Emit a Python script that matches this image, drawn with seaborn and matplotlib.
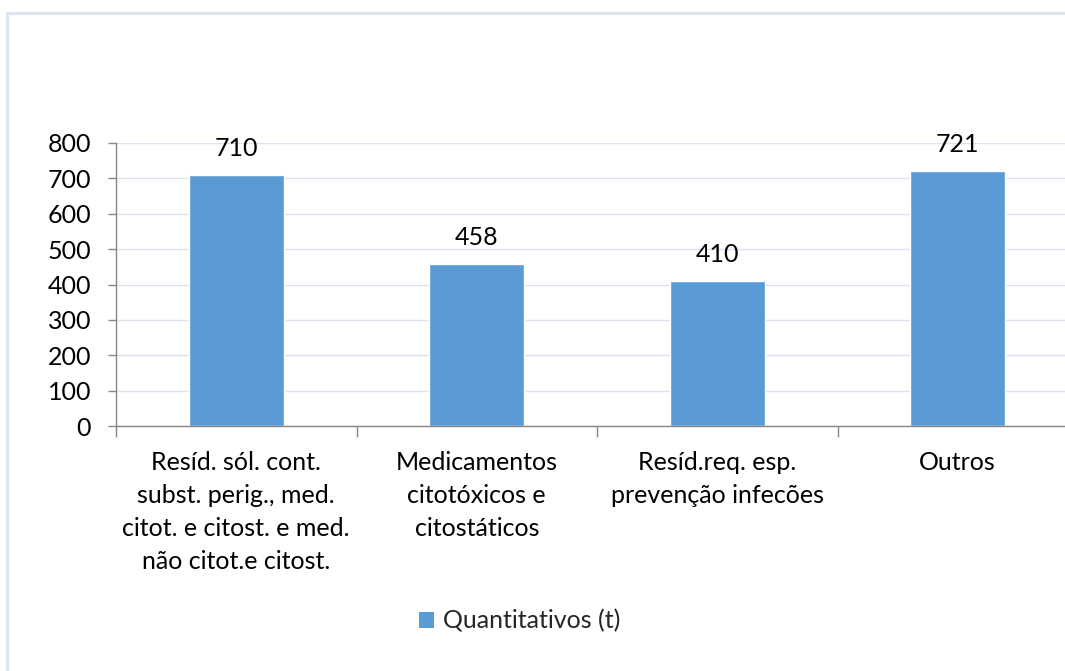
import matplotlib
matplotlib.use("Agg")
import matplotlib.pyplot as plt
import seaborn as sns
import pandas as pd
from matplotlib.patches import Rectangle, Patch

categories = [
    "Resíd. sól. cont.\nsubst. perig., med.\ncitot. e citost. e med.\nnão citot.e citost.",
    "Medicamentos\ncitotóxicos e\ncitostáticos",
    "Resíd.req. esp.\nprevenção infecões",
    "Outros",
]
values = [710, 458, 410, 721]
series_name = "Quantitativos (t)"
yticks = [0, 100, 200, 300, 400, 500, 600, 700, 800]

sns.set_theme(style="white")
plt.rcParams["font.family"] = ["Lato", "DejaVu Sans"]

W, H = 1065, 671
FS = 18
fig = plt.figure(figsize=(W / 100, H / 100), dpi=100)

# outer chart border (cropped at right/bottom)
fig.patches.append(Rectangle((7 / W, -0.1), 1.2, 1 - 13 / H + 0.1,
                             transform=fig.transFigure, fill=False,
                             edgecolor="#DCE5F1", linewidth=2.2))

ax = fig.add_axes([116 / W, (H - 426) / H, (1078 - 116) / W, 283 / H])
df = pd.DataFrame({"cat": categories, "val": values})
sns.barplot(data=df, x="cat", y="val", color="#5B9BD5", saturation=1,
            width=0.395, ax=ax)

ax.set_ylim(0, 800)
ax.set_xlim(-0.5, 3.5)
ax.set_yticks(yticks)
ax.set_yticklabels([str(t) for t in yticks], fontsize=FS, color="#000000")
ax.set_xlabel("")
ax.set_ylabel("")
ax.yaxis.grid(True, color="#DAE3EF", linewidth=1)
ax.set_axisbelow(True)

for s in ["top", "right"]:
    ax.spines[s].set_visible(False)
for s in ["left", "bottom"]:
    ax.spines[s].set_color("#888888")
    ax.spines[s].set_linewidth(1)

ax.tick_params(axis="y", left=True, length=6, color="#888888", pad=12, width=1)
ax.set_xticks([-0.5, 0.5, 1.5, 2.5, 3.5], minor=False)
ax.set_xticklabels([])
ax.tick_params(axis="x", bottom=True, length=8, color="#888888", width=1)
for i, c in enumerate(categories):
    ax.text(i, -0.088, c, transform=ax.get_xaxis_transform(), ha="center",
            va="top", fontsize=FS, linespacing=1.52, color="#000000")

for cont in ax.containers:
    ax.bar_label(cont, labels=[str(v) for v in values], padding=11,
                 fontsize=FS, color="#000000")

fig.legend(handles=[Patch(facecolor="#5B9BD5", edgecolor="none",
                          label=series_name)],
           loc="center", bbox_to_anchor=(520 / W, 1 - 621 / H), frameon=False,
           fontsize=FS, handlelength=0.6, handleheight=0.6, handletextpad=0.35)

fig.savefig("out.png", dpi=100)
